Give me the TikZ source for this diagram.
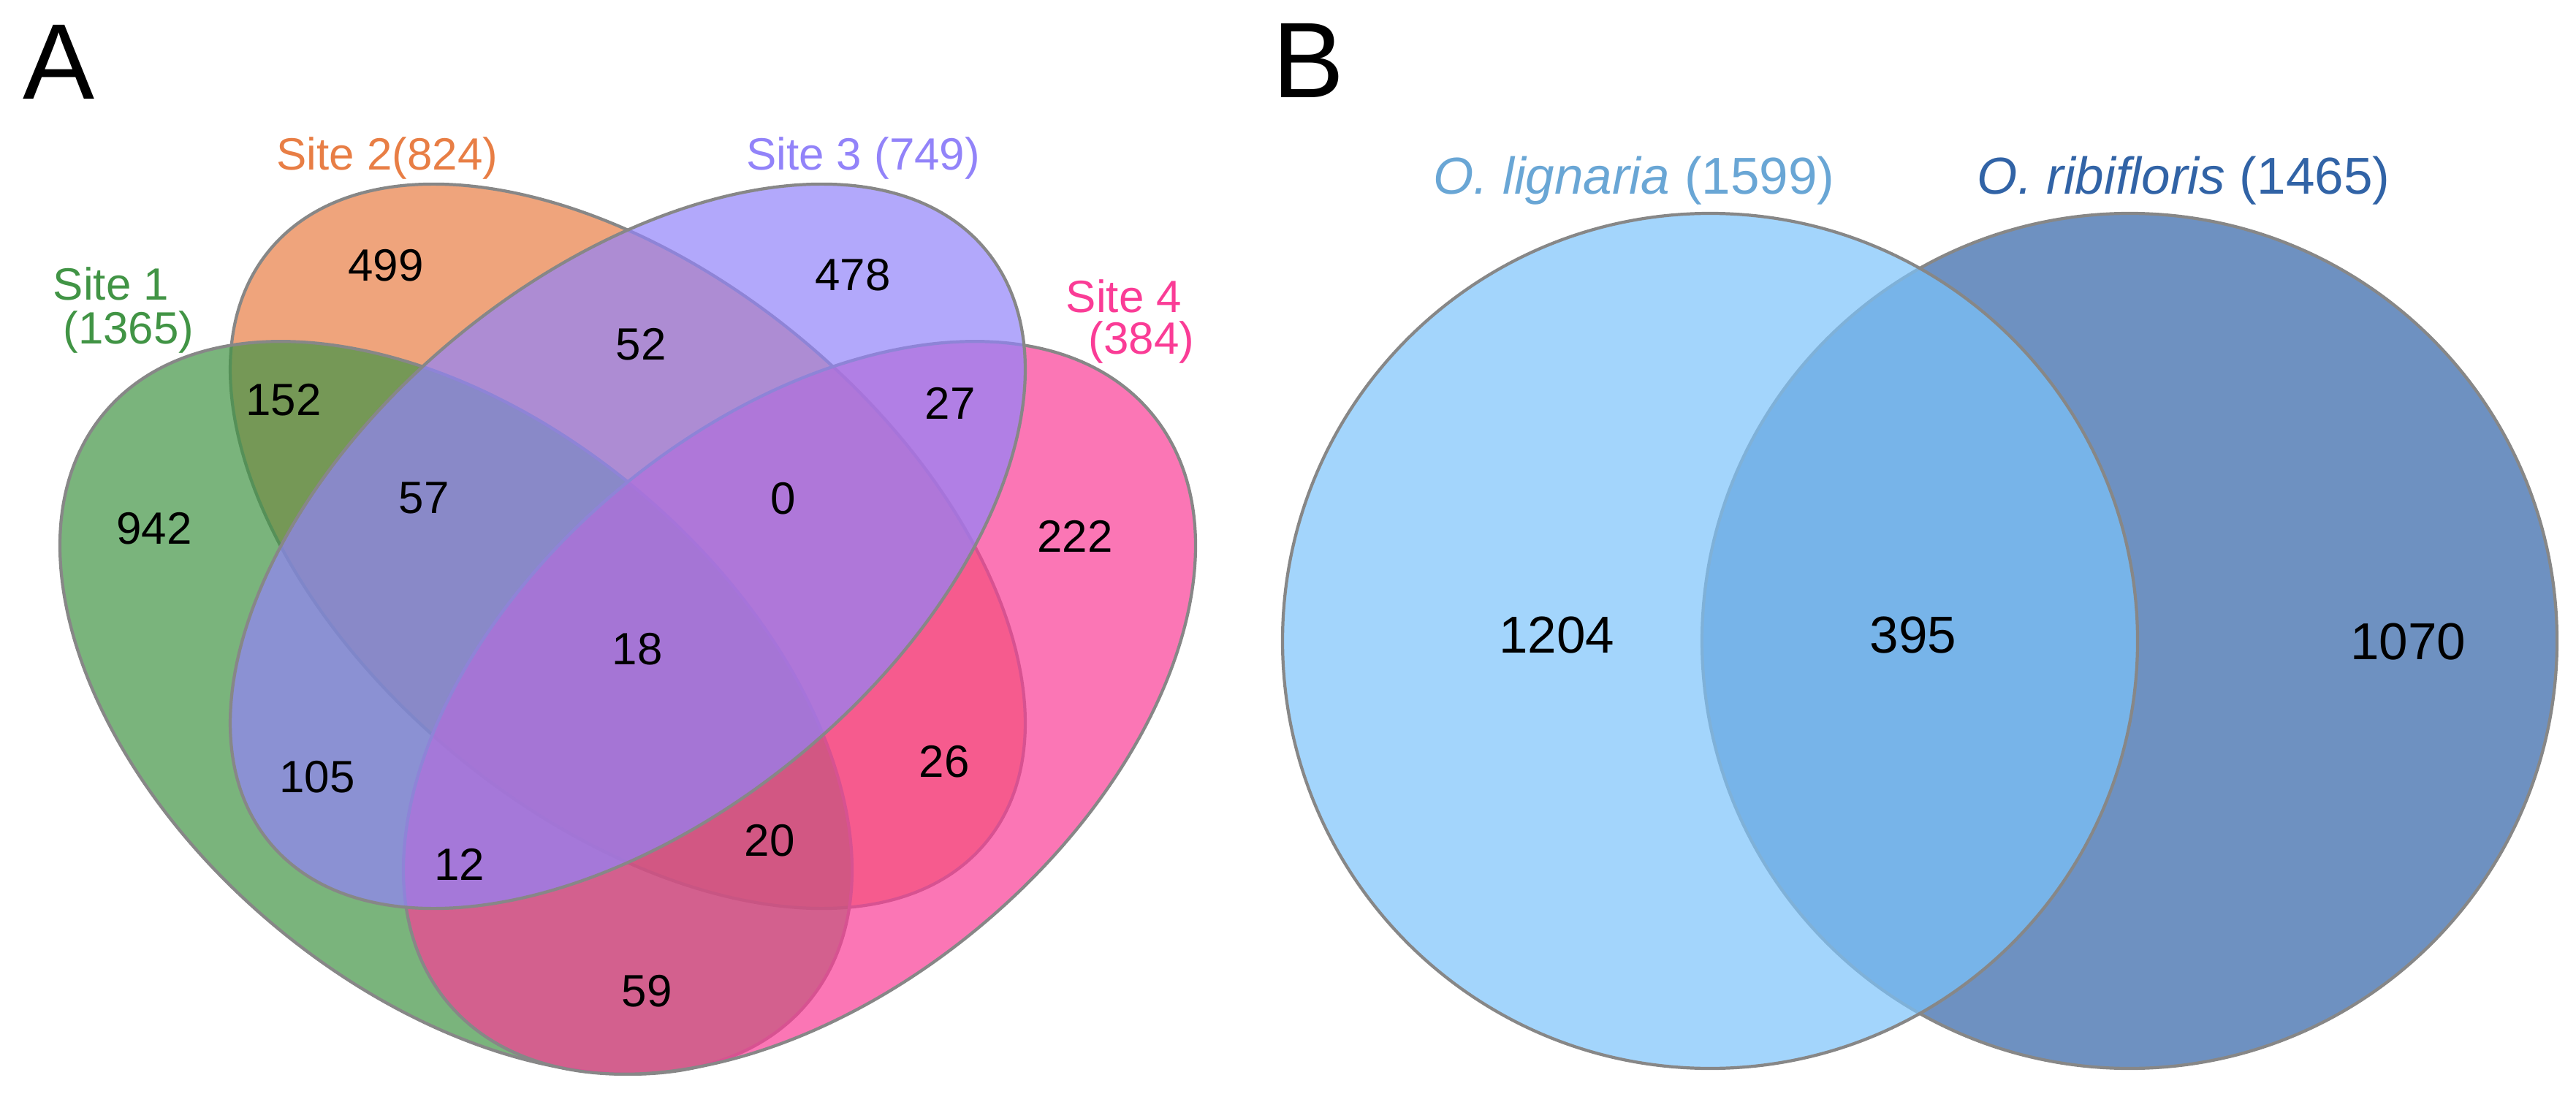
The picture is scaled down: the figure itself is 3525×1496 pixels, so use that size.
\documentclass[tikz,border=0pt]{standalone}
\usepackage{fontspec}
\setmainfont{Liberation Sans}
\usepackage{xcolor}

\definecolor{siteone}{RGB}{65,148,69}
\definecolor{sitetwo}{RGB}{232,126,69}
\definecolor{sitethree}{RGB}{146,131,249}
\definecolor{sitefour}{RGB}{250,60,150}
\definecolor{lignaria}{RGB}{124,195,251}
\definecolor{ribifloris}{RGB}{49,99,166}
\definecolor{rim}{RGB}{135,135,135}

\begin{document}
\begin{tikzpicture}[
    x=0.01cm, y=0.01cm,
    setshape/.style={draw=rim, line width=1.2pt, fill opacity=0.7},
    count/.style={font=\fontsize{17.6}{20}\selectfont, inner sep=0pt},
    bigcount/.style={font=\fontsize{20.2}{24}\selectfont, inner sep=0pt},
    setlabel/.style={font=\fontsize{17.6}{20}\selectfont, anchor=base, inner sep=0pt},
    biglabel/.style={font=\fontsize{20.2}{24}\selectfont, anchor=base, inner sep=0pt},
    panel/.style={font=\fontsize{41.8}{48}\selectfont, anchor=base, inner sep=0pt}
]
\useasboundingbox (0,0) rectangle (3525,1496);

% Panel letters
\node[panel] (lettera) at (81,1360) {A};
\node[panel] (letterb) at (1790,1362) {B};

% Site ellipses (bottom to top)
\filldraw[setshape, fill=sitetwo, shift={(859,748.5)}, rotate=-39.6] (0,0) ellipse (636 and 370);
\filldraw[setshape, fill=siteone, shift={(624,527.5)}, rotate=-40] (0,0) ellipse (628 and 388);
\filldraw[setshape, fill=sitefour, shift={(1094,527.5)}, rotate=40] (0,0) ellipse (628 and 388);
\filldraw[setshape, fill=sitethree, shift={(859,748.5)}, rotate=39.6] (0,0) ellipse (636 and 370);

% Site labels
\node[setlabel, text=siteone] (siteone) at (152,1085) {Site 1};
\node[setlabel, text=siteone] (siteonetotal) at (176,1025) {(1365)};
\node[setlabel, text=sitetwo] (sitetwo) at (530,1263) {Site 2(824)};
\node[setlabel, text=sitethree] (sitethree) at (1181,1263) {Site 3 (749)};
\node[setlabel, text=sitefour] (sitefour) at (1538,1068) {Site 4};
\node[setlabel, text=sitefour] (sitefourtotal) at (1562,1011) {(384)};

% Region counts
\node[count] (n499) at (528,1133) {499};
\node[count] (n152) at (388,949) {152};
\node[count] (n942) at (211,773) {942};
\node[count] (n57) at (580,814) {57};
\node[count] (n52) at (877,1025) {52};
\node[count] (n478) at (1167,1120) {478};
\node[count] (n27) at (1300,944) {27};
\node[count] (n0) at (1072,814) {0};
\node[count] (n222) at (1471,762) {222};
\node[count] (n18) at (872,608) {18};
\node[count] (n105) at (434,433) {105};
\node[count] (n12) at (629,313) {12};
\node[count] (n20) at (1053,346) {20};
\node[count] (n26) at (1292,454) {26};
\node[count] (n59) at (885,140) {59};

% Species circles
\filldraw[setshape, fill=ribifloris] (2914,619) circle (585);
\filldraw[setshape, fill=lignaria] (2340,619) circle (585);

% Species labels
\node[biglabel, text=lignaria!85!black] (lignlabel) at (2236,1230) {\textit{O. lignaria} (1599)};
\node[biglabel, text=ribifloris] (ribilabel) at (2988,1230) {\textit{O. ribifloris} (1465)};

% Species counts
\node[bigcount] (n1204) at (2130,627) {1204};
\node[bigcount] (n395) at (2618,627) {395};
\node[bigcount] (n1070) at (3295,618) {1070};

\end{tikzpicture}
\end{document}
